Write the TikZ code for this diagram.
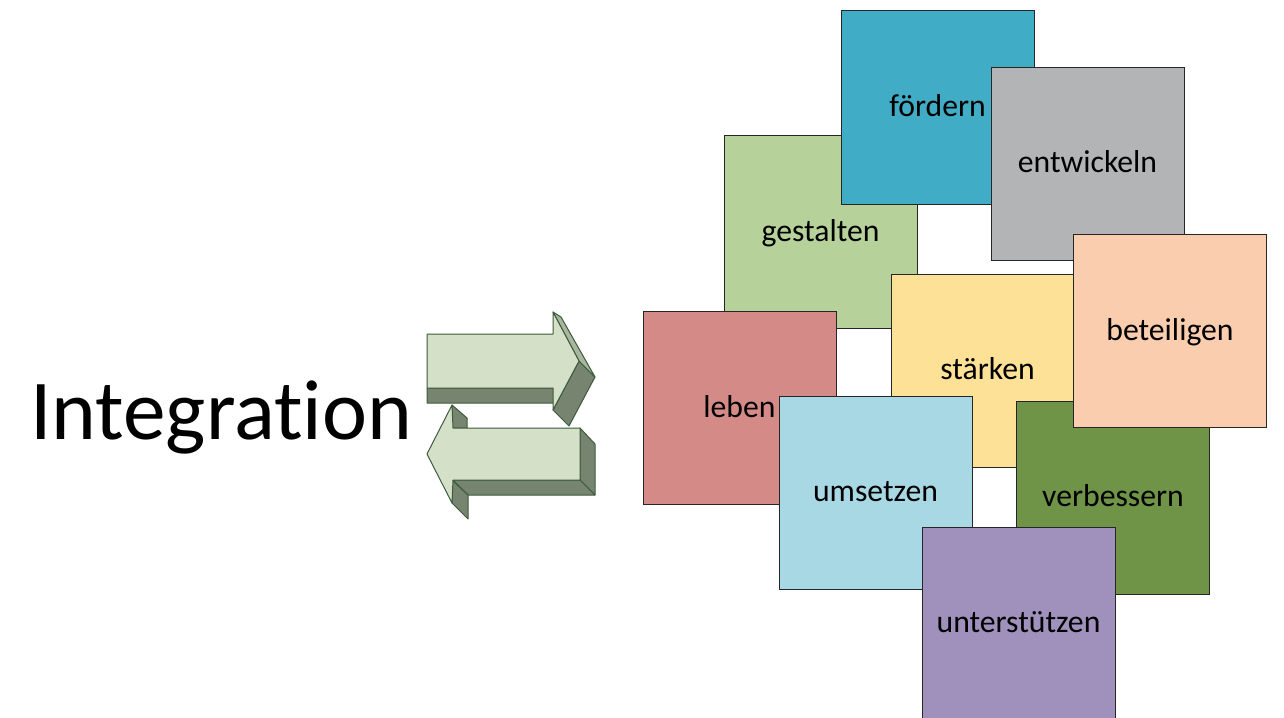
\documentclass[tikz,border=0pt]{standalone}
\usepackage{fontspec}
\setmainfont{Carlito}[Ligatures={NoCommon,NoContextual}]

\definecolor{cfoerdern}{HTML}{40ACC5}
\definecolor{centwickeln}{HTML}{B2B4B5}
\definecolor{cgestalten}{HTML}{B6D29A}
\definecolor{cbeteiligen}{HTML}{F9CDAE}
\definecolor{cstaerken}{HTML}{FCE196}
\definecolor{cleben}{HTML}{D48B88}
\definecolor{cumsetzen}{HTML}{A7D8E3}
\definecolor{cverbessern}{HTML}{6F9447}
\definecolor{cunterstuetzen}{HTML}{9F90BC}
\definecolor{arrowfront}{HTML}{D5E0C8}
\definecolor{arrowside}{HTML}{77846F}
\definecolor{arrowrim}{HTML}{A9B79F}
\definecolor{arrowline}{HTML}{3D5A3D}

\begin{document}
\begin{tikzpicture}[x=1pt, y=-1pt,
	card/.style = {draw=black!85, line width=1pt, minimum width=193pt, minimum height=193pt, inner sep=0pt, text height=24pt, text depth=6pt, font=\fontsize{31.7}{38}\selectfont},
	front/.style = {fill=arrowfront, draw=arrowline, line width=1pt, line join=round},
	side/.style = {fill=arrowside, draw=arrowline, line width=1pt, line join=round},
	rim/.style = {fill=arrowrim, draw=arrowline, line width=1pt, line join=round}]

	\useasboundingbox (0,0) rectangle (1284,717);

	\node[anchor=base west, inner sep=0pt, font=\fontsize{85.3}{100}\selectfont] (integration) at (30,439) {Integration};

	% upper arrow
	\filldraw[side] (427,388) -- (553,388) -- (568,403) -- (427,403) -- cycle;
	\filldraw[side] (579,361) -- (553,410) -- (569,426) -- (595,377) -- cycle;
	\filldraw[rim] (553,312) -- (579,361) -- (595,377) -- (561,317) -- cycle;
	\filldraw[front] (427,334) -- (553,334) -- (553,312) -- (579,361) -- (553,410) -- (553,388) -- (427,388) -- cycle;

	% lower arrow
	\filldraw[side] (580,428) -- (595,444) -- (595,495) -- (580,480) -- cycle;
	\filldraw[side] (453,480) -- (580,480) -- (595,495) -- (468,495) -- cycle;
	\filldraw[side] (452,480) -- (452,503) -- (468,519) -- (468,495) -- cycle;
	\filldraw[side] (452,405) -- (467,418) -- (467,428) -- (452,428) -- cycle;
	\filldraw[front] (580,428) -- (453,428) -- (452,405) -- (427,454) -- (452,503) -- (453,480) -- (580,480) -- cycle;

	% squares, back to front
	\node[card, fill=cgestalten] (gestalten) at (820.5,232) {gestalten};
	\node[card, fill=cfoerdern] (foerdern) at (937.5,107.5) {fördern};
	\node[card, fill=centwickeln] (entwickeln) at (1087.5,163.5) {entwickeln};
	\node[card, fill=cstaerken] (staerken) at (987.5,370.5) {stärken};
	\node[card, fill=cleben] (leben) at (739.5,408) {leben};
	\node[card, fill=cverbessern] (verbessern) at (1113,497.5) {verbessern};
	\node[card, fill=cbeteiligen] (beteiligen) at (1170,331) {beteiligen};
	\node[card, fill=cumsetzen] (umsetzen) at (875.5,492.5) {umsetzen};
	\node[card, fill=cunterstuetzen] (unterstuetzen) at (1018.5,623.5) {unterstützen};
\end{tikzpicture}
\end{document}
